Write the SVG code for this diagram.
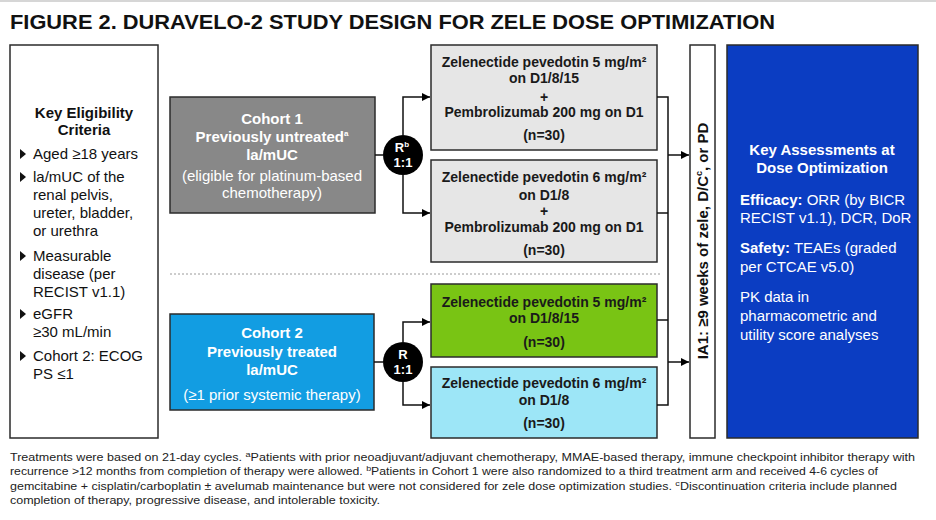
<svg xmlns="http://www.w3.org/2000/svg" width="936" height="520" viewBox="0 0 936 520">
<defs>
<marker id="arr" viewBox="0 0 10 10" refX="10" refY="5" markerWidth="8" markerHeight="8" markerUnits="userSpaceOnUse" orient="auto">
<path d="M0,0 L10,5 L0,10 Z" fill="#000"/>
</marker>
<style>
text{font-family:"Liberation Sans",Arial,sans-serif;}
.t{font-size:15px;fill:#111;}
.b{font-weight:bold;}
.w{fill:#fff;}
.c{text-anchor:middle;}
.arm{font-size:14px;font-weight:bold;fill:#1a1a1a;text-anchor:middle;}
.box{stroke:#2b2b2b;stroke-width:1.5;}
.ln{fill:none;stroke:#111;stroke-width:1.5;}
.fn{font-size:11px;fill:#222;}
.sup{font-size:8px;}
</style>
</defs>
<rect width="936" height="520" fill="#fff"/>
<line x1="0" y1="1" x2="936" y2="1" stroke="#d6d6d6" stroke-width="2"/>
<text x="10" y="29" font-size="21" font-weight="bold" fill="#111" textLength="765" lengthAdjust="spacingAndGlyphs">FIGURE 2. DURAVELO-2 STUDY DESIGN FOR ZELE DOSE OPTIMIZATION</text>

<g id="eligibility">
<rect x="10" y="45" width="148" height="393" fill="#fff" class="box"/>
<text class="t b c" x="84" y="118">Key Eligibility</text>
<text class="t b c" x="84" y="135">Criteria</text>
<g fill="#111">
<path d="M20,149 L26,154 L20,159 Z"/>
<path d="M20,172 L26,177 L20,182 Z"/>
<path d="M20,251 L26,256 L20,261 Z"/>
<path d="M20,309 L26,314 L20,319 Z"/>
<path d="M20,351 L26,356 L20,361 Z"/>
</g>
<text class="t" x="33" y="159">Aged ≥18 years</text>
<text class="t" x="33" y="182">la/mUC of the</text>
<text class="t" x="33" y="200">renal pelvis,</text>
<text class="t" x="33" y="218">ureter, bladder,</text>
<text class="t" x="33" y="236">or urethra</text>
<text class="t" x="33" y="261">Measurable</text>
<text class="t" x="33" y="279">disease (per</text>
<text class="t" x="33" y="297">RECIST v1.1)</text>
<text class="t" x="33" y="319">eGFR</text>
<text class="t" x="33" y="337">≥30 mL/min</text>
<text class="t" x="33" y="361">Cohort 2: ECOG</text>
<text class="t" x="33" y="379">PS ≤1</text>
</g>

<g id="cohort1">
<rect x="170" y="97" width="205" height="116" fill="#888888" class="box"/>
<text class="t b w c" x="272" y="124">Cohort 1</text>
<text class="t b w c" x="272" y="142">Previously untreated<tspan class="sup" dy="-6">a</tspan></text>
<text class="t b w c" x="272" y="160">la/mUC</text>
<text class="t w c" x="272" y="181">(eligible for platinum-based</text>
<text class="t w c" x="272" y="198">chemotherapy)</text>
</g>

<g id="cohort2">
<rect x="170" y="314" width="204" height="96" fill="#129de2" class="box"/>
<text class="t b w c" x="272" y="338">Cohort 2</text>
<text class="t b w c" x="272" y="357">Previously treated</text>
<text class="t b w c" x="272" y="375">la/mUC</text>
<text class="t w c" x="272" y="400">(≥1 prior systemic therapy)</text>
</g>

<g id="rand1">
<circle cx="403" cy="155" r="20" fill="#000"/>
<text class="b w c" font-size="13" x="402" y="152">R<tspan font-size="8" dy="-5">b</tspan></text>
<text class="b w c" font-size="13" x="403" y="167">1:1</text>
</g>
<g id="rand2">
<circle cx="403" cy="362" r="20" fill="#000"/>
<text class="b w c" font-size="13" x="403" y="359">R</text>
<text class="b w c" font-size="13" x="403" y="374">1:1</text>
</g>

<g id="arm1">
<rect x="431" y="45" width="226" height="105" fill="#e6e6e6" class="box"/>
<text class="arm" x="544" y="67">Zelenectide pevedotin 5 mg/m²</text>
<text class="arm" x="544" y="83">on D1/8/15</text>
<text class="arm" x="544" y="102">+</text>
<text class="arm" x="544" y="117">Pembrolizumab 200 mg on D1</text>
<text class="arm" x="544" y="140">(n=30)</text>
</g>
<g id="arm2">
<rect x="431" y="160" width="226" height="102" fill="#e6e6e6" class="box"/>
<text class="arm" x="544" y="182">Zelenectide pevedotin 6 mg/m²</text>
<text class="arm" x="544" y="200">on D1/8</text>
<text class="arm" x="544" y="216">+</text>
<text class="arm" x="544" y="232">Pembrolizumab 200 mg on D1</text>
<text class="arm" x="544" y="255">(n=30)</text>
</g>
<g id="arm3">
<rect x="431" y="284" width="226" height="73" fill="#79c414" class="box"/>
<text class="arm" x="544" y="307">Zelenectide pevedotin 5 mg/m²</text>
<text class="arm" x="544" y="323">on D1/8/15</text>
<text class="arm" x="544" y="347">(n=30)</text>
</g>
<g id="arm4">
<rect x="431" y="367" width="226" height="71" fill="#9de6f7" class="box"/>
<text class="arm" x="544" y="388">Zelenectide pevedotin 6 mg/m²</text>
<text class="arm" x="544" y="405">on D1/8</text>
<text class="arm" x="544" y="428">(n=30)</text>
</g>

<g id="ia1">
<rect x="690" y="45" width="25" height="393" fill="#fff" class="box"/>
<text class="b c" font-size="15" fill="#111" transform="translate(708,241) rotate(-90)">IA1: ≥9 weeks of zele, D/C<tspan font-size="9" dy="-6">c</tspan><tspan dy="6">, or PD</tspan></text>
</g>

<g id="assessments">
<rect x="727" y="45" width="191" height="393" fill="#0b3dc2" class="box"/>
<text class="t b w c" x="822" y="155">Key Assessments at</text>
<text class="t b w c" x="822" y="173">Dose Optimization</text>
<text class="t w" x="740" y="205"><tspan class="b">Efficacy:</tspan> ORR (by BICR</text>
<text class="t w" x="740" y="223">RECIST v1.1), DCR, DoR</text>
<text class="t w" x="740" y="253"><tspan class="b">Safety:</tspan> TEAEs (graded</text>
<text class="t w" x="740" y="272">per CTCAE v5.0)</text>
<text class="t w" x="740" y="302">PK data in</text>
<text class="t w" x="740" y="321">pharmacometric and</text>
<text class="t w" x="740" y="340">utility score analyses</text>
</g>

<g id="connectors">
<line x1="170" y1="274" x2="661" y2="274" stroke="#9a9a9a" stroke-width="1" stroke-dasharray="2,2"/>
<line class="ln" x1="375" y1="155" x2="383" y2="155"/>
<polyline class="ln" points="403,135 403,97 430,97" marker-end="url(#arr)"/>
<polyline class="ln" points="403,175 403,213 430,213" marker-end="url(#arr)"/>
<line class="ln" x1="374" y1="362" x2="383" y2="362"/>
<polyline class="ln" points="403,342 403,322 430,322" marker-end="url(#arr)"/>
<polyline class="ln" points="403,382 403,405 430,405" marker-end="url(#arr)"/>
<polyline class="ln" points="657,97 668,97 668,405 657,405"/>
<line class="ln" x1="657" y1="213" x2="668" y2="213"/>
<line class="ln" x1="657" y1="320" x2="668" y2="320"/>
<line class="ln" x1="668" y1="155" x2="689" y2="155" marker-end="url(#arr)"/>
<line class="ln" x1="668" y1="362" x2="689" y2="362" marker-end="url(#arr)"/>
</g>

<g id="footnote">
<text class="fn" x="10" y="461" textLength="905" lengthAdjust="spacingAndGlyphs">Treatments were based on 21-day cycles. <tspan class="sup" dy="-4">a</tspan><tspan dy="4">Patients with prior neoadjuvant/adjuvant chemotherapy, MMAE-based therapy, immune checkpoint inhibitor therapy with</tspan></text>
<text class="fn" x="10" y="475" textLength="868" lengthAdjust="spacingAndGlyphs">recurrence &gt;12 months from completion of therapy were allowed. <tspan class="sup" dy="-4">b</tspan><tspan dy="4">Patients in Cohort 1 were also randomized to a third treatment arm and received 4-6 cycles of</tspan></text>
<text class="fn" x="10" y="490" textLength="887" lengthAdjust="spacingAndGlyphs">gemcitabine + cisplatin/carboplatin ± avelumab maintenance but were not considered for zele dose optimization studies. <tspan class="sup" dy="-4">c</tspan><tspan dy="4">Discontinuation criteria include planned</tspan></text>
<text class="fn" x="10" y="504" textLength="370" lengthAdjust="spacingAndGlyphs">completion of therapy, progressive disease, and intolerable toxicity.</text>
</g>
</svg>
